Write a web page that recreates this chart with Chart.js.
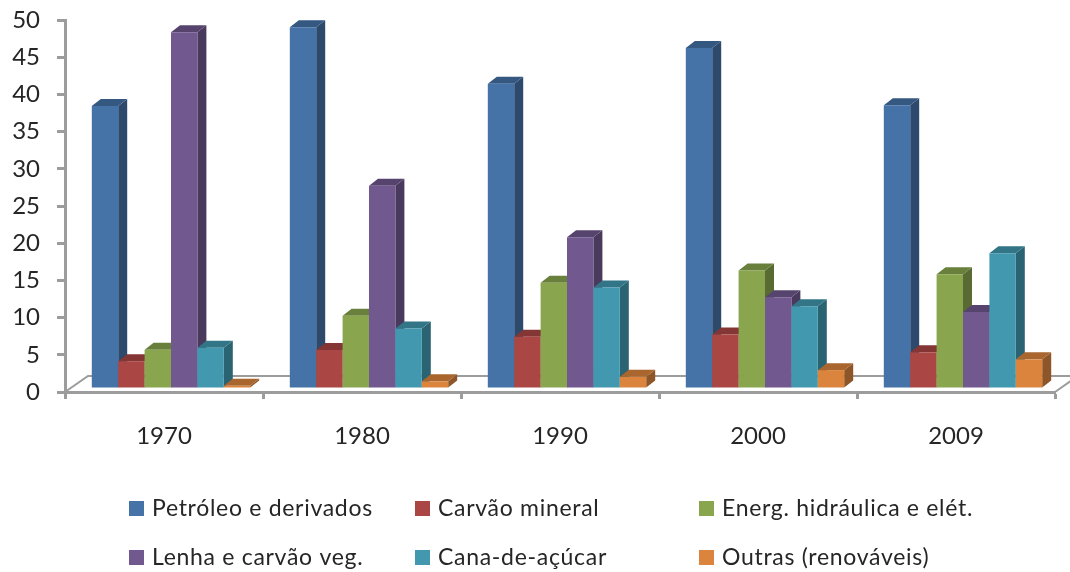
<!DOCTYPE html>
<html>
<head>
<meta charset="utf-8">
<title>Oferta de energia</title>
<style>
  html, body { margin: 0; padding: 0; background: #fff; }
  canvas { display: block; }
</style>
<script src="https://cdn.jsdelivr.net/npm/chart.js@4"></script>
</head>
<body>
<canvas id="myChart" width="1070" height="572"></canvas>
<script>
const years = ["1970", "1980", "1990", "2000", "2009"];
const petroleo = [37.9, 48.5, 40.9, 45.7, 38.0];
const carvaoMineral = [3.6, 5.1, 6.9, 7.2, 4.8];
const hidraulica = [5.15, 9.7, 14.15, 15.8, 15.3];
const lenha = [47.8, 27.2, 20.25, 12.2, 10.2];
const canaDeAcucar = [5.4, 8.0, 13.5, 11.0, 18.1];
const outras = [0.3, 0.9, 1.5, 2.4, 3.85];

const seriesNames = [
  "Petróleo e derivados",
  "Carvão mineral",
  "Energ. hidráulica e elét.",
  "Lenha e carvão veg.",
  "Cana-de-açúcar",
  "Outras (renováveis)",
];
const seriesValues = [petroleo, carvaoMineral, hidraulica, lenha, canaDeAcucar, outras];
const seriesColors = ["#4572A7", "#AA4643", "#89A54E", "#71588F", "#4198AF", "#DB843D"];

const FONT = "Lato, Carlito, sans-serif";
const TEXT_COLOR = "#262626";
const AXIS_COLOR = "#9c9c9c";

// Depth of each bar, and where the bars sit on the floor
const BAR_DX = 9;
const BAR_DY = 7;
const BAR_SHIFT_X = 7;
const BAR_SHIFT_Y = -4;
// Depth of the floor itself
const FLOOR_DX = 23;
const FLOOR_DY = 16;

const shade = (hex, factor) => {
  const n = parseInt(hex.slice(1), 16);
  const r = Math.round(((n >> 16) & 255) * factor);
  const g = Math.round(((n >> 8) & 255) * factor);
  const b = Math.round((n & 255) * factor);
  return `rgb(${r}, ${g}, ${b})`;
};

const fillPoly = (ctx, color, points) => {
  ctx.fillStyle = color;
  ctx.beginPath();
  points.forEach(([x, y], i) => (i ? ctx.lineTo(x, y) : ctx.moveTo(x, y)));
  ctx.closePath();
  ctx.fill();
};

const drawFloor = (chart) => {
  const { ctx, chartArea } = chart;
  const { left, right, bottom } = chartArea;
  ctx.save();
  ctx.strokeStyle = AXIS_COLOR;
  ctx.lineWidth = 2;
  ctx.beginPath();
  ctx.moveTo(left, bottom);
  ctx.lineTo(left + FLOOR_DX, bottom - FLOOR_DY);
  ctx.lineTo(chart.width, bottom - FLOOR_DY);
  ctx.moveTo(right, bottom);
  ctx.lineTo(right + FLOOR_DX, bottom - FLOOR_DY);
  ctx.stroke();
  ctx.restore();
};

// Side and top faces of a bar; the front is the regular bar element
const drawDepth = (ctx, bar, color) => {
  const x0 = bar.x - bar.width / 2;
  const x1 = bar.x + bar.width / 2;
  fillPoly(ctx, shade(color, 0.65), [
    [x1, bar.y],
    [x1 + BAR_DX, bar.y - BAR_DY],
    [x1 + BAR_DX, bar.base - BAR_DY],
    [x1, bar.base],
  ]);
  fillPoly(ctx, shade(color, 0.77), [
    [x0, bar.y],
    [x1, bar.y],
    [x1 + BAR_DX, bar.y - BAR_DY],
    [x0 + BAR_DX, bar.y - BAR_DY],
  ]);
};

// Bars are painted left to right so each one hides the side of its neighbour
const bars3d = {
  id: "bars3d",
  beforeDatasetsDraw(chart) {
    const { ctx } = chart;
    drawFloor(chart);
    ctx.save();
    ctx.translate(BAR_SHIFT_X, BAR_SHIFT_Y);
    years.forEach((year, dataIndex) => {
      chart.data.datasets.forEach((dataset, datasetIndex) => {
        const bar = chart.getDatasetMeta(datasetIndex).data[dataIndex];
        drawDepth(ctx, bar, dataset.backgroundColor);
        bar.draw(ctx);
      });
    });
    ctx.restore();
    return false;
  },
};

// Two rows of three columns, which the built-in legend cannot lay out
const legendColumns = [129, 415, 699];
const legendRows = [501, 550];
const columnLegend = {
  id: "columnLegend",
  afterDraw(chart) {
    const { ctx } = chart;
    ctx.save();
    ctx.font = `23px ${FONT}`;
    ctx.letterSpacing = "0.7px";
    ctx.textBaseline = "middle";
    chart.data.datasets.forEach((dataset, i) => {
      const x = legendColumns[i % 3];
      const y = legendRows[Math.floor(i / 3)];
      ctx.fillStyle = dataset.backgroundColor;
      ctx.fillRect(x, y, 15, 15);
      ctx.fillStyle = TEXT_COLOR;
      ctx.fillText(dataset.label, x + 23, y + 8);
    });
    ctx.restore();
  },
};

new Chart(document.getElementById("myChart").getContext("2d"), {
  type: "bar",
  data: {
    labels: years,
    datasets: seriesNames.map((name, i) => ({
      label: name,
      data: seriesValues[i],
      backgroundColor: seriesColors[i],
      categoryPercentage: 0.8,
      barPercentage: 1,
    })),
  },
  options: {
    responsive: false,
    animation: false,
    layout: { padding: { top: 20, right: 15, left: 0, bottom: 0 } },
    plugins: {
      legend: { display: false },
      tooltip: { enabled: false },
    },
    scales: {
      x: {
        afterFit: (scale) => { scale.height = 180; },
        grid: { drawOnChartArea: false, drawTicks: true, tickLength: 7, tickWidth: 3, color: AXIS_COLOR },
        border: { color: AXIS_COLOR, width: 3 },
        ticks: { font: { family: FONT, size: 24 }, color: TEXT_COLOR, padding: 23, maxRotation: 0 },
      },
      y: {
        min: 0,
        max: 50,
        // the top tick label may overhang the plot, so it should not push it down
        afterFit: (scale) => {
          scale.width = 65;
          scale.paddingTop = 0;
          scale.paddingBottom = 0;
        },
        grid: { drawOnChartArea: false, drawTicks: true, tickLength: 8, tickWidth: 3, color: AXIS_COLOR },
        border: { color: AXIS_COLOR, width: 3 },
        ticks: { stepSize: 5, font: { family: FONT, size: 24 }, color: TEXT_COLOR, padding: 17 },
      },
    },
  },
  plugins: [bars3d, columnLegend],
});
</script>
</body>
</html>
